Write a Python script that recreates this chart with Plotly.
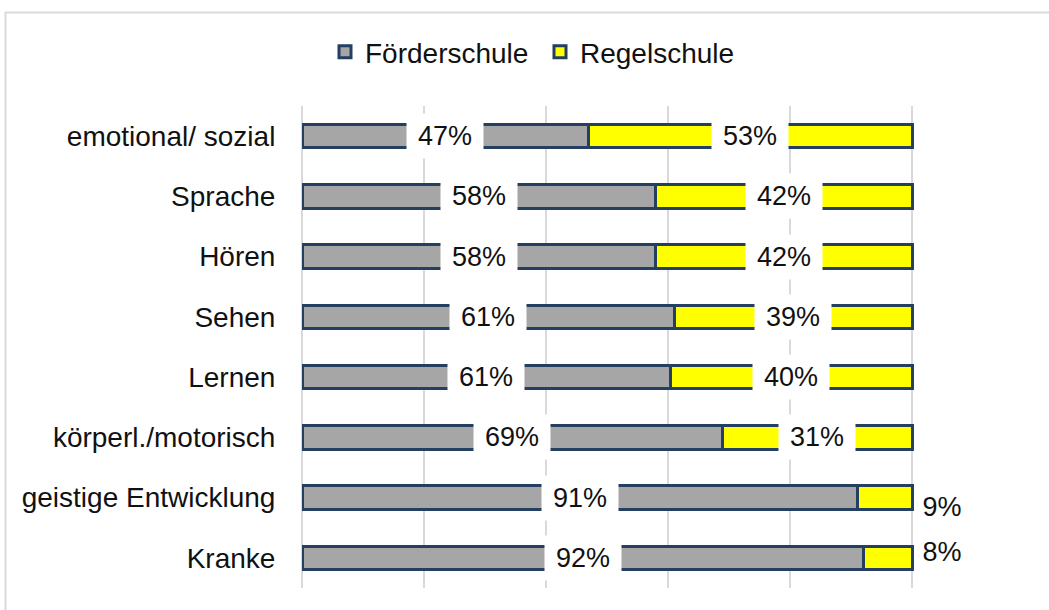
import plotly.graph_objects as go

categories = ["emotional/ sozial", "Sprache", "Hören", "Sehen", "Lernen",
              "körperl./motorisch", "geistige Entwicklung", "Kranke"]
foerder = [47, 58, 58, 61, 61, 69, 91, 92]
regel = [53, 42, 42, 39, 40, 31, 9, 8]
series_names = ["Förderschule", "Regelschule"]

FONT = "Liberation Sans, Arial, sans-serif"
EDGE = "#243F60"
W, H = 1049, 610

fig = go.Figure()
fig.add_trace(go.Bar(y=categories, x=foerder, orientation="h", name=series_names[0],
                     marker=dict(color="#A6A6A6", line=dict(color=EDGE, width=3)),
                     hoverinfo="skip"))
fig.add_trace(go.Bar(y=categories, x=regel, orientation="h", name=series_names[1],
                     marker=dict(color="#FFFF00", line=dict(color=EDGE, width=3)),
                     hoverinfo="skip"))

annotations = []
for cat, f, r in zip(categories, foerder, regel):
    tot = f + r
    fn, rn = f / tot, r / tot
    t1 = f"{f}%"
    annotations.append(dict(x=fn / 2, y=cat, xref="x", yref="y", text=t1,
                            showarrow=False, bgcolor="white", width=18 * len(t1) + 20,
                            height=42, font=dict(family=FONT, size=27, color="#111")))
    t2 = f"{r}%"
    if rn < 0.1:
        shift = 9 if r == 9 else -6
        annotations.append(dict(x=1.0, y=cat, xref="x", yref="y", text=t2,
                                showarrow=False, bgcolor="white", xanchor="left",
                                width=18 * len(t2) + 16, height=38, yshift=-shift, xshift=2,
                                font=dict(family=FONT, size=27, color="#111")))
    else:
        annotations.append(dict(x=fn + rn / 2, y=cat, xref="x", yref="y", text=t2,
                                showarrow=False, bgcolor="white", width=18 * len(t2) + 20,
                                height=42, font=dict(family=FONT, size=27, color="#111")))

L, R, T, B = 302, 15, 106, 22
pw, ph = W - L - R, H - T - B
def px_x(p):
    return (p - L) / pw
def px_y(p):
    return (H - B - p) / ph

fig.update_layout(
    width=W, height=H,
    margin=dict(l=L, r=R, t=T, b=B),
    paper_bgcolor="white", plot_bgcolor="white",
    barmode="stack", barnorm="fraction", bargap=0.61,
    font=dict(family=FONT, size=27, color="#111"),
    showlegend=True,
    legend=dict(orientation="h", xref="container", yref="container",
                x=325 / W, y=1 - 52 / H, xanchor="left", yanchor="middle",
                entrywidth=170, entrywidthmode="pixels",
                font=dict(family=FONT, size=28, color="#111"),
                traceorder="normal"),
    xaxis=dict(range=[0, 1.2], dtick=0.2, showticklabels=False, showgrid=True,
               gridcolor="#D9D9D9", gridwidth=2, zeroline=True, zerolinecolor="#D9D9D9",
               zerolinewidth=2, showline=False, fixedrange=True),
    yaxis=dict(autorange="reversed", showgrid=False, zeroline=False,
               ticks="outside", ticklen=20, tickcolor="rgba(0,0,0,0)",
               tickfont=dict(family=FONT, size=28, color="#111"), fixedrange=True),
    annotations=annotations,
    shapes=[dict(type="rect", xref="paper", yref="paper",
                 x0=px_x(5.5), x1=px_x(1070), y0=px_y(640), y1=px_y(12.5),
                 line=dict(color="#D9D9D9", width=2), fillcolor="rgba(0,0,0,0)",
                 layer="below")],
)

fig.write_html("out.html", config={"displayModeBar": False},
               post_script="document.body.style.margin='0';document.body.style.overflow='hidden';")
